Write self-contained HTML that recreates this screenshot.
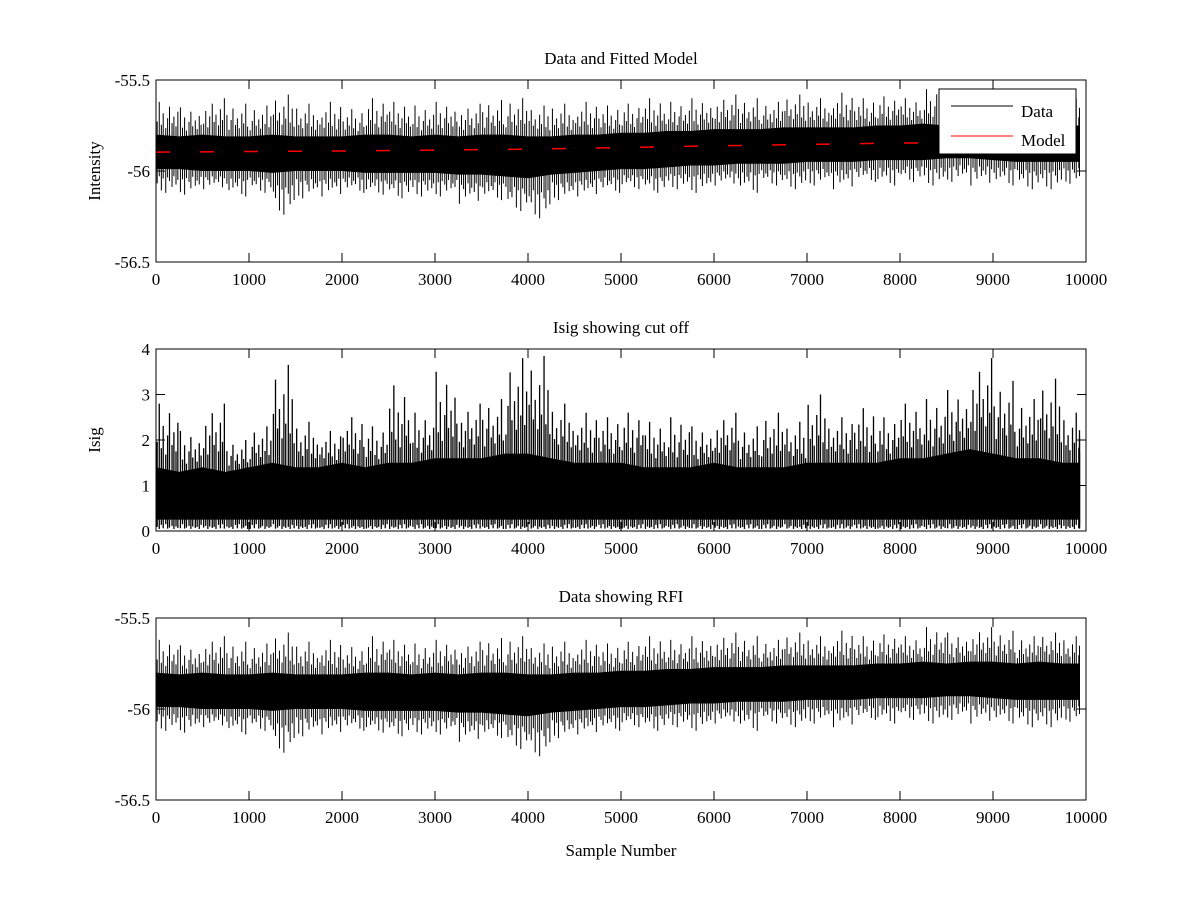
<!DOCTYPE html>
<html><head><meta charset="utf-8"><style>
body{margin:0;background:#fff;}
svg{display:block;font-family:"Liberation Serif",serif;}
</style></head><body>
<svg id="fig" width="1200" height="900"></svg>
<script>
// Per-bin (250 samples) envelope of the intensity series
const binStart = [0,250,500,750,1000,1250,1500,1750,2000,2250,2500,2750,3000,3250,3500,3750,4000,4250,4500,4750,5000,5250,5500,5750,6000,6250,6500,6750,7000,7250,7500,7750,8000,8250,8500,8750,9000,9250,9500,9750];
const intPeakHi = [-55.62,-55.65,-55.6,-55.63,-55.64,-55.58,-55.63,-55.62,-55.66,-55.6,-55.62,-55.64,-55.62,-55.63,-55.61,-55.6,-55.64,-55.63,-55.62,-55.64,-55.63,-55.6,-55.62,-55.6,-55.58,-55.6,-55.62,-55.58,-55.6,-55.57,-55.6,-55.59,-55.6,-55.55,-55.58,-55.55,-55.57,-55.6,-55.58,-55.6];
const intPeakLo = [-56.12,-56.13,-56.1,-56.14,-56.12,-56.24,-56.15,-56.14,-56.12,-56.13,-56.15,-56.14,-56.14,-56.18,-56.16,-56.22,-56.26,-56.16,-56.14,-56.12,-56.1,-56.12,-56.1,-56.12,-56.08,-56.12,-56.08,-56.1,-56.08,-56.1,-56.06,-56.08,-56.06,-56.08,-56.06,-56.08,-56.08,-56.1,-56.1,-56.07];
const intCoreHi = [-55.8,-55.81,-55.8,-55.81,-55.81,-55.8,-55.81,-55.81,-55.81,-55.8,-55.8,-55.81,-55.8,-55.81,-55.8,-55.8,-55.81,-55.81,-55.8,-55.8,-55.79,-55.79,-55.78,-55.78,-55.77,-55.77,-55.77,-55.76,-55.76,-55.76,-55.76,-55.75,-55.75,-55.74,-55.75,-55.74,-55.74,-55.75,-55.74,-55.75];
const intCoreLo = [-55.99,-55.99,-56.0,-56.0,-56.0,-56.01,-56.0,-56.0,-56.0,-56.01,-56.01,-56.01,-56.01,-56.02,-56.02,-56.03,-56.04,-56.02,-56.01,-56.0,-55.99,-55.99,-55.98,-55.97,-55.97,-55.96,-55.96,-55.96,-55.95,-55.95,-55.95,-55.94,-55.94,-55.94,-55.93,-55.93,-55.94,-55.95,-55.95,-55.95];
const modelX = [0,2000,4000,6000,8000,9930];
const modelY = [-55.896,-55.89,-55.88,-55.862,-55.846,-55.845];
const isigPeak = [2.8,2.2,2.8,2.0,2.3,3.65,2.4,2.2,2.5,2.3,3.2,2.6,3.5,2.8,2.9,3.8,3.85,2.8,2.6,2.5,2.6,2.4,2.5,2.3,2.6,2.3,2.6,2.4,3.0,2.5,2.7,2.5,2.8,2.9,3.1,3.8,3.3,2.9,3.35,2.6];
const isigCore = [1.4,1.3,1.4,1.3,1.4,1.5,1.4,1.4,1.5,1.4,1.5,1.5,1.6,1.6,1.6,1.7,1.7,1.6,1.5,1.5,1.5,1.4,1.4,1.4,1.5,1.4,1.4,1.4,1.5,1.5,1.5,1.5,1.6,1.6,1.7,1.8,1.7,1.6,1.6,1.5];
const xTicks = [0,1000,2000,3000,4000,5000,6000,7000,8000,9000,10000];

const NS="http://www.w3.org/2000/svg", svg=document.getElementById('fig');
function mk(t,a,p){const e=document.createElementNS(NS,t);for(const k in a)e.setAttribute(k,a[k]);(p||svg).appendChild(e);return e;}
const X0=156,X1=1086;
const sx=v=>X0+(v/10000)*(X1-X0);
const lastX=9930;
// fixed spike pattern within a bin (position fraction, height factor up, depth factor down)
const pf=[0.05,0.14,0.23,0.31,0.42,0.5,0.58,0.69,0.77,0.86,0.94];
const hu=[0.4,1,0.3,0.65,0.2,0.5,0.85,0.35,0.55,0.25,0.7];
const hd=[0.6,0.3,0.9,0.4,1,0.35,0.5,0.75,0.3,0.65,0.45];

function axes(top,bot,ymin,ymax,yTicks,yLabels,title,ylab,name){
  const g=mk('g',{});
  
  
  const sy=v=>bot-(v-ymin)/(ymax-ymin)*(bot-top);
  return {g,sy,finish(){
    mk('rect',{x:X0,y:top,width:X1-X0,height:bot-top,fill:'none',stroke:'#000','stroke-width':1},g);
    xTicks.forEach(t=>{const x=sx(t);
      mk('line',{x1:x,x2:x,y1:bot,y2:bot-9,stroke:'#000'},g);
      mk('line',{x1:x,x2:x,y1:top,y2:top+9,stroke:'#000'},g);
      const tx=mk('text',{x:x,y:bot+23,'text-anchor':'middle','font-size':17},g);tx.textContent=t;
      
      
    });
    yTicks.forEach((t,i)=>{const y=sy(t);
      mk('line',{x1:X0,x2:X0+9,y1:y,y2:y,stroke:'#000'},g);
      mk('line',{x1:X1,x2:X1-9,y1:y,y2:y,stroke:'#000'},g);
      const tx=mk('text',{x:X0-6,y:y+6,'text-anchor':'end','font-size':17},g);tx.textContent=yLabels[i];
      
      
    });
    const tt=mk('text',{x:(X0+X1)/2,y:top-16,'text-anchor':'middle','font-size':17},g);tt.textContent=title;
    
    
    const yl=mk('text',{x:0,y:0,'text-anchor':'middle','font-size':17,transform:`translate(${X0-56},${(top+bot)/2}) rotate(-90)`},g);yl.textContent=ylab;
    
    
  }};
}

function drawIntensity(ax){
  const sy=ax.sy;let pts=[];
  binStart.forEach((b,i)=>pts.push(sx(Math.min(b,lastX))+','+sy(intCoreHi[i])));
  pts.push(sx(lastX)+','+sy(intCoreHi[intCoreHi.length-1]));
  pts.push(sx(lastX)+','+sy(intCoreLo[intCoreLo.length-1]));
  for(let i=binStart.length-1;i>=0;i--)pts.push(sx(binStart[i])+','+sy(intCoreLo[i]));
  const p=mk('polygon',{points:pts.join(' '),fill:'#000'},ax.g);
  
  
  binStart.forEach((b,i)=>{
    pf.forEach((f,k)=>{
      const x=sx(Math.min(b+250*f,lastX));
      const hi=intCoreHi[i]+(intPeakHi[i]-intCoreHi[i])*hu[(k+i)%pf.length];
      const lo=intCoreLo[i]+(intPeakLo[i]-intCoreLo[i])*hd[(k+2*i)%pf.length];
      const l=mk('line',{x1:x,x2:x,y1:sy(hi),y2:sy(lo),stroke:'#000','stroke-width':1},ax.g);
      
      
    });
  });
}

// Panel 1
const a1=axes(80,262,-56.5,-55.5,[-56.5,-56,-55.5],['-56.5','-56','-55.5'],'Data and Fitted Model','Intensity','panel-data-model');
const mpath=mk('polyline',{points:modelX.map((v,i)=>sx(v)+','+a1.sy(modelY[i])).join(' '),fill:'none',stroke:'#f00','stroke-width':1.5},a1.g);


drawIntensity(a1);
const mpath2=mk('polyline',{points:modelX.map((v,i)=>sx(v)+','+a1.sy(modelY[i])).join(' '),fill:'none',stroke:'#f00','stroke-width':1.5,'stroke-dasharray':'14 30'},a1.g);


a1.finish();
// legend
const lg=mk('g',{});


mk('rect',{x:939,y:89,width:137,height:65,fill:'#fff',stroke:'#000'},lg);
mk('line',{x1:951,x2:1013,y1:106,y2:106,stroke:'#000'},lg);
mk('line',{x1:951,x2:1013,y1:136,y2:136,stroke:'#f00'},lg);
let t=mk('text',{x:1021,y:117,'font-size':17},lg);t.textContent='Data';


t=mk('text',{x:1021,y:146,'font-size':17},lg);t.textContent='Model';



// Panel 2
const a2=axes(349,531,0,4,[0,1,2,3,4],['0','1','2','3','4'],'Isig showing cut off','Isig','panel-isig');
(function(){
  const sy=a2.sy;let pts=[sx(0)+','+sy(0.25)];
  binStart.forEach((b,i)=>pts.push(sx(Math.min(b,lastX))+','+sy(isigCore[i])));
  pts.push(sx(lastX)+','+sy(isigCore[isigCore.length-1]));
  pts.push(sx(lastX)+','+sy(0.25));
  const p=mk('polygon',{points:pts.join(' '),fill:'#000'},a2.g);
  
  
  binStart.forEach((b,i)=>{
    pf.forEach((f,k)=>{
      const x=sx(Math.min(b+250*f,lastX));
      const hi=isigCore[i]+(isigPeak[i]-isigCore[i])*hu[(k+i)%pf.length];
      const lo=0.25*hd[(k+3*i)%pf.length]*0.6;
      const l=mk('line',{x1:x,x2:x,y1:sy(hi),y2:sy(lo),stroke:'#000','stroke-width':1.3},a2.g);
      
      
    });
  });
})();
a2.finish();

// Panel 3
const a3=axes(618,800,-56.5,-55.5,[-56.5,-56,-55.5],['-56.5','-56','-55.5'],'Data showing RFI','','panel-rfi');
drawIntensity(a3);
a3.finish();
const xl=mk('text',{x:621,y:856,'text-anchor':'middle','font-size':17});xl.textContent='Sample Number';


</script>
</body></html>
